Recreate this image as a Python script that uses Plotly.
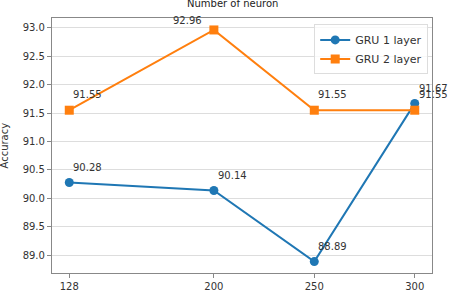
import plotly.graph_objects as go

neurons = [128, 200, 250, 300]
gru1 = [90.28, 90.14, 88.89, 91.67]
gru2 = [91.55, 92.96, 91.55, 91.55]
labels1 = ["90.28", "90.14", "88.89", "91.67"]
labels2 = ["91.55", "92.96", "91.55", "91.55"]
ytick_vals = [89.0, 89.5, 90.0, 90.5, 91.0, 91.5, 92.0, 92.5, 93.0]

W, H = 449, 304
L, R, T, B = 52, 17, 18, 25

fig = go.Figure()
fig.add_trace(go.Scatter(x=neurons, y=gru1, mode="lines+markers", name="GRU 1 layer",
                         line=dict(color="#1f77b4", width=2),
                         marker=dict(symbol="circle", size=9, color="#1f77b4")))
fig.add_trace(go.Scatter(x=neurons, y=gru2, mode="lines+markers", name="GRU 2 layer",
                         line=dict(color="#ff7f0e", width=2),
                         marker=dict(symbol="square", size=9, color="#ff7f0e")))

font = dict(family="DejaVu Sans", size=10, color="#333")
anns = []
for i, (x, y, t) in enumerate(zip(neurons, gru1, labels1)):
    anns.append(dict(x=x, y=y, text=t, showarrow=False, xanchor="left", yanchor="middle",
                     xshift=2, yshift=15, font=font))
for i, (x, y, t) in enumerate(zip(neurons, gru2, labels2)):
    if i == 1:
        anns.append(dict(x=x, y=y, text=t, showarrow=False, xanchor="right", yanchor="middle",
                         xshift=-10, yshift=9, font=font))
    else:
        anns.append(dict(x=x, y=y, text=t, showarrow=False, xanchor="left", yanchor="middle",
                         xshift=2, yshift=16, font=font))
anns.append(dict(x=232, y=H - 3, xref="x domain", yref="paper", text="Number of neuron",
                 showarrow=False, font=dict(family="DejaVu Sans", size=10, color="#222")))
anns[-1].update(xref="paper", x=(232 - L) / (W - L - R), y=1 + (T - 3) / (H - T - B),
                yanchor="middle", xanchor="center")
anns.append(dict(xref="paper", yref="paper", x=-(L - 4) / (W - L - R), y=0.5,
                 text="Accuracy", textangle=-90, showarrow=False, xanchor="center",
                 yanchor="middle", font=dict(family="DejaVu Sans", size=10, color="#333")))

fig.update_layout(
    width=W, height=H, margin=dict(l=L, r=R, t=T, b=B),
    paper_bgcolor="white", plot_bgcolor="white",
    showlegend=True,
    legend=dict(x=0.99, y=0.975, xanchor="right", yanchor="top",
                bgcolor="rgba(255,255,255,0.8)", bordercolor="#ddd", borderwidth=1,
                font=dict(family="DejaVu Sans", size=11, color="#333"),
                itemwidth=30, tracegroupgap=0),
    annotations=anns,
    xaxis=dict(range=[119.4, 308.6], tickvals=neurons, showgrid=False, zeroline=False,
               showline=True, linecolor="#888", linewidth=1.2, mirror=True,
               ticks="outside", ticklen=4, tickcolor="#888",
               tickfont=dict(family="DejaVu Sans", size=10, color="#333")),
    yaxis=dict(range=[88.69, 93.17], tickvals=ytick_vals, tickformat=".1f",
               showgrid=True, gridcolor="#ddd", gridwidth=1, zeroline=False,
               showline=True, linecolor="#888", linewidth=1.2, mirror=True,
               ticks="outside", ticklen=4, tickcolor="#888",
               tickfont=dict(family="DejaVu Sans", size=10, color="#333")),
)
fig.write_html("out.html")
